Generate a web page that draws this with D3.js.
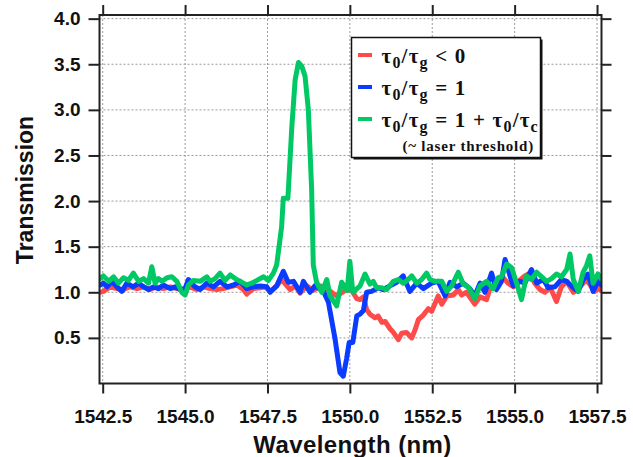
<!DOCTYPE html>
<html>
<head>
<meta charset="utf-8">
<script src="https://cdn.jsdelivr.net/npm/d3@7"></script>
<style>
  html, body { margin: 0; padding: 0; background: #fff; }
  svg { display: block; }
  .tick text { font-family: "Liberation Sans", Arial, sans-serif; font-weight: bold; font-size: 19px; fill: #111; }
</style>
</head>
<body>
<svg id="chart" width="633" height="457"></svg>
<script>
// Wavelength ticks (nm) and transmission ticks
const xTicks = [1542.5, 1545.0, 1547.5, 1550.0, 1552.5, 1555.0, 1557.5];
const yTicks = [0.5, 1.0, 1.5, 2.0, 2.5, 3.0, 3.5, 4.0];

// tau0/taug < 0
const redWavelength = [1542.42, 1542.52, 1542.73, 1542.93, 1543.13, 1543.33, 1543.54, 1543.74, 1543.94, 1544.14, 1544.34,
  1544.55, 1544.75, 1544.95, 1545.15, 1545.36, 1545.56, 1545.76, 1545.96, 1546.16, 1546.37, 1546.57, 1546.77, 1546.87,
  1547.07, 1547.28, 1547.43, 1547.58, 1547.78, 1547.93, 1548.19, 1548.34, 1548.49, 1548.69, 1548.89, 1549.10, 1549.30,
  1549.60, 1549.90, 1550.06, 1550.21, 1550.31, 1550.41, 1550.51, 1550.61, 1550.76, 1550.86, 1550.97, 1551.07, 1551.22,
  1551.32, 1551.47, 1551.57, 1551.72, 1551.88, 1551.98, 1552.08, 1552.23, 1552.38, 1552.48, 1552.68, 1552.79, 1552.94,
  1553.14, 1553.29, 1553.39, 1553.54, 1553.79, 1553.95, 1554.15, 1554.25, 1554.45, 1554.65, 1554.80, 1554.96, 1555.11,
  1555.31, 1555.46, 1555.61, 1555.77, 1555.92, 1556.07, 1556.27, 1556.42, 1556.58, 1556.78, 1556.98, 1557.18, 1557.33,
  1557.43, 1557.53, 1557.62];
const redTransmission = [1.00, 1.01, 1.06, 1.04, 1.03, 1.06, 1.04, 1.06, 1.03, 1.06, 1.04,
  1.06, 1.04, 1.03, 1.06, 1.03, 1.06, 1.04, 1.03, 1.04, 1.06, 1.08, 1.03, 0.98,
  1.04, 1.05, 1.06, 1.01, 1.07, 1.14, 1.03, 1.07, 0.99, 1.07, 1.02, 1.07, 1.04,
  0.96, 1.03, 1.02, 0.93, 0.92, 0.95, 0.81, 0.76, 0.72, 0.74, 0.67, 0.68, 0.60,
  0.56, 0.48, 0.55, 0.56, 0.50, 0.59, 0.70, 0.75, 0.82, 0.79, 0.96, 0.87, 0.96,
  0.97, 1.03, 0.97, 1.00, 0.87, 0.95, 0.92, 1.04, 1.10, 1.16, 1.10, 1.06, 1.12,
  1.18, 1.21, 1.10, 1.03, 1.00, 1.06, 0.90, 1.06, 1.12, 1.00, 1.06, 1.14, 1.06,
  1.01, 1.04, 1.02];

// tau0/taug = 1
const blueWavelength = [1542.42, 1542.52, 1542.63, 1542.78, 1542.93, 1543.08, 1543.23, 1543.43, 1543.59, 1543.74, 1543.89,
  1544.04, 1544.19, 1544.34, 1544.55, 1544.70, 1544.85, 1545.00, 1545.10, 1545.30, 1545.46, 1545.66, 1545.86, 1546.06,
  1546.27, 1546.47, 1546.67, 1546.87, 1547.07, 1547.28, 1547.48, 1547.58, 1547.78, 1547.98, 1548.13, 1548.29, 1548.49,
  1548.59, 1548.79, 1548.94, 1549.20, 1549.35, 1549.55, 1549.70, 1549.80, 1549.90, 1549.98, 1550.09, 1550.21, 1550.31,
  1550.41, 1550.51, 1550.66, 1550.86, 1551.01, 1551.22, 1551.42, 1551.62, 1551.82, 1552.03, 1552.23, 1552.48, 1552.68,
  1552.89, 1553.04, 1553.24, 1553.44, 1553.64, 1553.79, 1553.95, 1554.10, 1554.30, 1554.45, 1554.60, 1554.71, 1554.86,
  1554.96, 1555.16, 1555.31, 1555.51, 1555.67, 1555.87, 1556.02, 1556.22, 1556.42, 1556.58, 1556.78, 1556.93, 1557.08,
  1557.23, 1557.38, 1557.53, 1557.62];
const blueTransmission = [1.08, 1.10, 1.06, 1.12, 1.06, 1.01, 1.10, 1.06, 1.10, 1.06, 1.03,
  1.06, 1.04, 1.08, 1.04, 1.06, 1.03, 1.04, 1.14, 1.06, 1.03, 1.10, 1.06, 1.12,
  1.06, 1.08, 1.12, 1.04, 1.06, 1.07, 1.06, 1.00, 1.07, 1.23, 1.11, 1.12, 1.00,
  1.12, 1.00, 1.07, 1.01, 0.89, 0.49, 0.12, 0.08, 0.27, 0.45, 0.45, 0.74, 0.76,
  0.80, 1.00, 1.01, 1.05, 1.03, 1.07, 1.11, 1.18, 1.01, 1.10, 1.04, 1.10, 1.12,
  0.96, 1.11, 1.06, 1.10, 1.04, 0.96, 1.10, 1.00, 1.21, 1.03, 1.12, 1.36, 1.18,
  1.07, 1.12, 1.10, 1.25, 1.10, 1.14, 1.05, 1.06, 1.14, 1.12, 1.05, 1.01, 1.14,
  1.20, 1.01, 1.12, 1.08];

// tau0/taug = 1 + tau0/tauc (near laser threshold)
const greenWavelength = [1542.42, 1542.52, 1542.68, 1542.83, 1542.98, 1543.13, 1543.28, 1543.43, 1543.59, 1543.74, 1543.89,
  1543.99, 1544.09, 1544.19, 1544.30, 1544.45, 1544.60, 1544.75, 1544.90, 1545.00, 1545.10, 1545.25, 1545.46, 1545.66,
  1545.76, 1545.91, 1546.06, 1546.21, 1546.37, 1546.52, 1546.67, 1546.87, 1547.02, 1547.18, 1547.38, 1547.53, 1547.68,
  1547.78, 1547.93, 1547.98, 1548.12, 1548.24, 1548.34, 1548.44, 1548.54, 1548.64, 1548.74, 1548.84, 1548.89, 1548.99,
  1549.15, 1549.30, 1549.40, 1549.60, 1549.75, 1549.92, 1550.00, 1550.09, 1550.31, 1550.46, 1550.61, 1550.71, 1550.81,
  1550.97, 1551.12, 1551.32, 1551.47, 1551.62, 1551.77, 1551.88, 1552.03, 1552.18, 1552.33, 1552.43, 1552.58, 1552.79,
  1552.94, 1553.09, 1553.29, 1553.44, 1553.59, 1553.79, 1553.95, 1554.15, 1554.35, 1554.50, 1554.60, 1554.76, 1554.91,
  1555.06, 1555.21, 1555.36, 1555.51, 1555.67, 1555.82, 1555.97, 1556.12, 1556.27, 1556.42, 1556.58, 1556.68, 1556.78,
  1556.93, 1557.08, 1557.18, 1557.28, 1557.38, 1557.53, 1557.62];
const greenTransmission = [1.15, 1.18, 1.12, 1.17, 1.10, 1.16, 1.13, 1.21, 1.12, 1.15, 1.10,
  1.28, 1.10, 1.15, 1.12, 1.16, 1.17, 1.12, 1.00, 0.97, 1.08, 1.13, 1.12, 1.17,
  1.12, 1.15, 1.21, 1.13, 1.19, 1.15, 1.12, 1.08, 1.10, 1.13, 1.17, 1.13, 1.21,
  1.30, 1.72, 2.03, 2.03, 2.82, 3.33, 3.52, 3.48, 3.37, 3.00, 2.13, 1.30, 1.11,
  1.00, 1.14, 0.96, 0.85, 1.11, 1.02, 1.34, 1.00, 1.07, 1.20, 1.09, 1.12, 1.05,
  1.05, 1.03, 1.12, 1.14, 1.10, 1.14, 1.18, 1.10, 1.14, 1.21, 1.14, 1.12, 1.12,
  1.01, 1.07, 1.22, 1.09, 1.06, 0.93, 1.07, 1.12, 1.04, 1.16, 1.17, 1.31, 1.27,
  1.10, 0.92, 1.18, 1.14, 1.22, 1.17, 1.12, 1.15, 1.20, 1.17, 1.25, 1.42, 1.14,
  1.01, 1.22, 1.29, 1.40, 1.10, 1.20, 1.15];

const seriesColors = { red: "#ff4a4a", blue: "#0a3cff", green: "#00c864" };

const svg = d3.select("#chart");
const plot = { left: 99.5, right: 601.5, top: 15, bottom: 383.5 };

const x = d3.scaleLinear().domain([1542.403, 1557.636]).range([plot.left, plot.right]);
const y = d3.scaleLinear().domain([0, 4.04]).range([plot.bottom, plot.top]);

// dotted grid
const grid = svg.append("g").attr("stroke", "#9a9a9a").attr("stroke-width", 1).attr("stroke-dasharray", "2,2");
grid.selectAll("line.gx").data(xTicks).join("line")
  .attr("x1", d => x(d)).attr("x2", d => x(d))
  .attr("y1", plot.top).attr("y2", plot.bottom);
grid.selectAll("line.gy").data(yTicks).join("line")
  .attr("x1", plot.left).attr("x2", plot.right)
  .attr("y1", d => y(d)).attr("y2", d => y(d));

// curves
const line = d3.line().x(d => x(d[0])).y(d => y(d[1])).curve(d3.curveLinear);
const curves = [
  { w: redWavelength, t: redTransmission, c: seriesColors.red },
  { w: blueWavelength, t: blueTransmission, c: seriesColors.blue },
  { w: greenWavelength, t: greenTransmission, c: seriesColors.green }
];
svg.append("defs").append("clipPath").attr("id", "plotclip")
  .append("rect").attr("x", plot.left).attr("y", plot.top)
  .attr("width", plot.right - plot.left).attr("height", plot.bottom - plot.top);
const curveLayer = svg.append("g").attr("clip-path", "url(#plotclip)");
curves.forEach(s => {
  curveLayer.append("path")
    .datum(d3.zip(s.w, s.t))
    .attr("d", line)
    .attr("fill", "none")
    .attr("stroke", s.c)
    .attr("stroke-width", 5)
    .attr("stroke-linejoin", "round")
    .attr("stroke-linecap", "round");
});

// axes
const fmt = d3.format(".1f");
const bottomAxis = svg.append("g").attr("transform", `translate(0,${plot.bottom})`)
  .call(d3.axisBottom(x).tickValues(xTicks).tickFormat(fmt).tickSize(10).tickPadding(16.5));
const leftAxis = svg.append("g").attr("transform", `translate(${plot.left},0)`)
  .call(d3.axisLeft(y).tickValues(yTicks).tickFormat(fmt).tickSize(11).tickPadding(8));
const topAxis = svg.append("g").attr("transform", `translate(0,${plot.top})`)
  .call(d3.axisTop(x).tickValues(xTicks).tickFormat("").tickSize(10));
const rightAxis = svg.append("g").attr("transform", `translate(${plot.right},0)`)
  .call(d3.axisRight(y).tickValues(yTicks).tickFormat("").tickSize(10));
[bottomAxis, leftAxis, topAxis, rightAxis].forEach(a => {
  a.select(".domain").remove();
  a.selectAll(".tick line").attr("stroke", "#222").attr("stroke-width", 2);
});

// frame
svg.append("rect")
  .attr("x", plot.left).attr("y", plot.top)
  .attr("width", plot.right - plot.left).attr("height", plot.bottom - plot.top)
  .attr("fill", "none").attr("stroke", "#222").attr("stroke-width", 2);

// axis titles
svg.append("text")
  .attr("x", (plot.left + plot.right) / 2 + 2).attr("y", 453)
  .attr("text-anchor", "middle")
  .attr("font-family", "Liberation Sans, Arial, sans-serif")
  .attr("font-weight", "bold").attr("font-size", 24).attr("letter-spacing", 0.4).attr("fill", "#111")
  .text("Wavelength (nm)");
svg.append("text")
  .attr("transform", "translate(33,190) rotate(-90)")
  .attr("text-anchor", "middle")
  .attr("font-family", "Liberation Sans, Arial, sans-serif")
  .attr("font-weight", "bold").attr("font-size", 23).attr("fill", "#111")
  .text("Transmission");

// legend
const legend = svg.append("g");
const box = { x: 351.5, y: 37.5, w: 189, h: 120 };
legend.append("rect").attr("x", box.x + 2).attr("y", box.y + 2).attr("width", box.w).attr("height", box.h)
  .attr("fill", "#111");
legend.append("rect").attr("x", box.x).attr("y", box.y).attr("width", box.w).attr("height", box.h)
  .attr("fill", "#fff").attr("stroke", "#111").attr("stroke-width", 1.5);

const serif = "Liberation Serif, Times New Roman, serif";
const mainSize = 21, subSize = 16, subShift = 5;
const legendRows = [
  { c: seriesColors.red, base: 63, parts: [["τ", 0], ["0", 1], ["/τ", 0], ["g", 1], [" < 0", 0]] },
  { c: seriesColors.blue, base: 95, parts: [["τ", 0], ["0", 1], ["/τ", 0], ["g", 1], [" = 1", 0]] },
  { c: seriesColors.green, base: 127, parts: [["τ", 0], ["0", 1], ["/τ", 0], ["g", 1], [" = 1 + τ", 0], ["0", 1], ["/τ", 0], ["c", 1]] }
];
legendRows.forEach(r => {
  legend.append("line")
    .attr("x1", 358).attr("x2", 372).attr("y1", r.base - 8).attr("y2", r.base - 8)
    .attr("stroke", r.c).attr("stroke-width", 4);
  const t = legend.append("text").attr("x", 381.5).attr("y", r.base)
    .attr("font-family", serif).attr("font-weight", "bold").attr("font-size", mainSize)
    .attr("letter-spacing", 1.2).attr("fill", "#111");
  let sub = false;
  r.parts.forEach(([s, isSub]) => {
    const dy = isSub && !sub ? subShift : (!isSub && sub ? -subShift : 0);
    t.append("tspan").attr("dy", dy).attr("font-size", isSub ? subSize : mainSize).text(s);
    sub = !!isSub;
  });
});
legend.append("text").attr("x", 534).attr("y", 151)
  .attr("text-anchor", "end")
  .attr("font-family", serif).attr("font-weight", "bold").attr("font-size", 15)
  .attr("letter-spacing", 0.8).attr("fill", "#111")
  .text("(~ laser threshold)");
</script>
</body>
</html>
